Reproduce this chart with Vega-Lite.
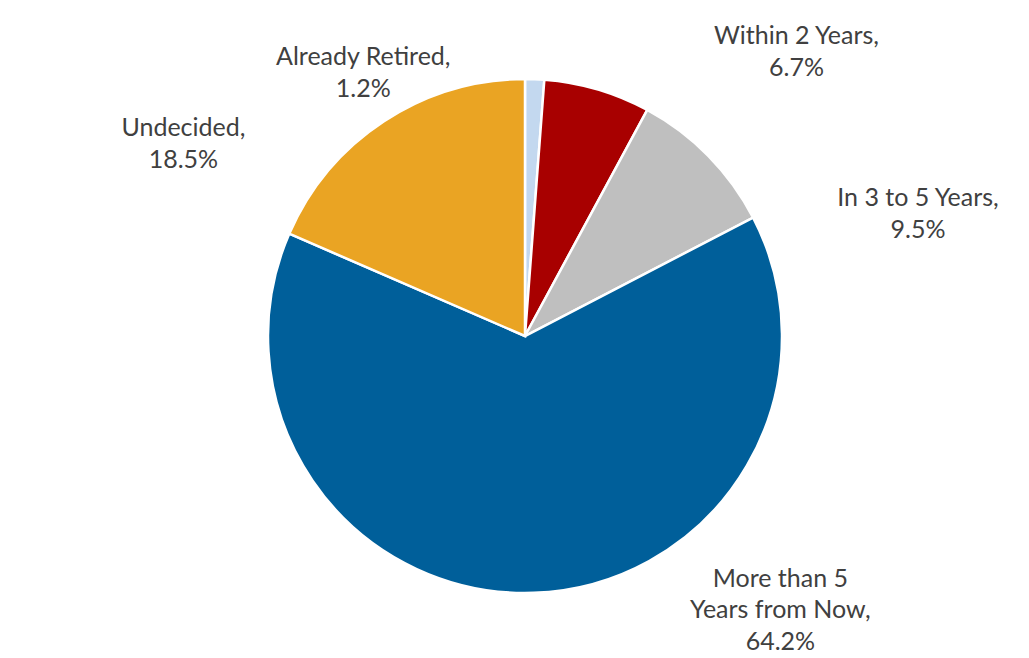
{
  "$schema": "https://vega.github.io/schema/vega-lite/v6.json",
  "width": 1008,
  "height": 644,
  "autosize": {"type": "none"},
  "padding": {"left": 21, "top": 14, "right": 0, "bottom": 0},
  "background": "white",
  "config": {"view": {"stroke": null}},
  "data": {
    "values": [
      {"k": 1, "category": "Already Retired", "pct": 1.2, "label": "Already Retired,\n1.2%"},
      {"k": 2, "category": "Within 2 Years", "pct": 6.7, "label": "Within 2 Years,\n6.7%"},
      {"k": 3, "category": "In 3 to 5 Years", "pct": 9.5, "label": "In 3 to 5 Years,\n9.5%"},
      {"k": 4, "category": "More than 5 Years from Now", "pct": 64.2, "label": "More than 5\nYears from Now,\n64.2%"},
      {"k": 5, "category": "Undecided", "pct": 18.5, "label": "Undecided,\n18.5%"}
    ]
  },
  "encoding": {
    "theta": {"field": "pct", "type": "quantitative", "stack": true},
    "order": {"field": "k", "type": "quantitative"}
  },
  "layer": [
    {
      "mark": {"type": "arc", "outerRadius": 257, "stroke": "white", "strokeWidth": 2.5},
      "encoding": {
        "color": {
          "field": "category",
          "type": "nominal",
          "scale": {
            "domain": ["Already Retired", "Within 2 Years", "In 3 to 5 Years", "More than 5 Years from Now", "Undecided"],
            "range": ["#c3d8ef", "#a80000", "#bfbfbf", "#005f9a", "#eaa423"]
          },
          "legend": null
        }
      }
    },
    {
      "mark": {"type": "text", "radius": 300, "dx": -173, "dy": 21, "lineBreak": "\n", "lineHeight": 32, "font": "Lato", "fontSize": 25, "color": "#404040", "align": "center", "baseline": "middle"},
      "encoding": {"text": {"condition": {"test": "datum.k == 1", "field": "label"}, "value": ""}}
    },
    {
      "mark": {"type": "text", "radius": 300, "dx": 187, "dy": -12, "lineBreak": "\n", "lineHeight": 32, "font": "Lato", "fontSize": 25, "color": "#404040", "align": "center", "baseline": "middle"},
      "encoding": {"text": {"condition": {"test": "datum.k == 2", "field": "label"}, "value": ""}}
    },
    {
      "mark": {"type": "text", "radius": 300, "dx": 179, "dy": 72, "lineBreak": "\n", "lineHeight": 32, "font": "Lato", "fontSize": 25, "color": "#404040", "align": "center", "baseline": "middle"},
      "encoding": {"text": {"condition": {"test": "datum.k == 3", "field": "label"}, "value": ""}}
    },
    {
      "mark": {"type": "text", "radius": 300, "dx": 245, "dy": -57, "lineBreak": "\n", "lineHeight": 31.5, "font": "Lato", "fontSize": 25, "color": "#404040", "align": "center", "baseline": "middle"},
      "encoding": {"text": {"condition": {"test": "datum.k == 4", "field": "label"}, "value": ""}}
    },
    {
      "mark": {"type": "text", "radius": 300, "dx": -177, "dy": 43, "lineBreak": "\n", "lineHeight": 32, "font": "Lato", "fontSize": 25, "color": "#404040", "align": "center", "baseline": "middle"},
      "encoding": {"text": {"condition": {"test": "datum.k == 5", "field": "label"}, "value": ""}}
    }
  ]
}
